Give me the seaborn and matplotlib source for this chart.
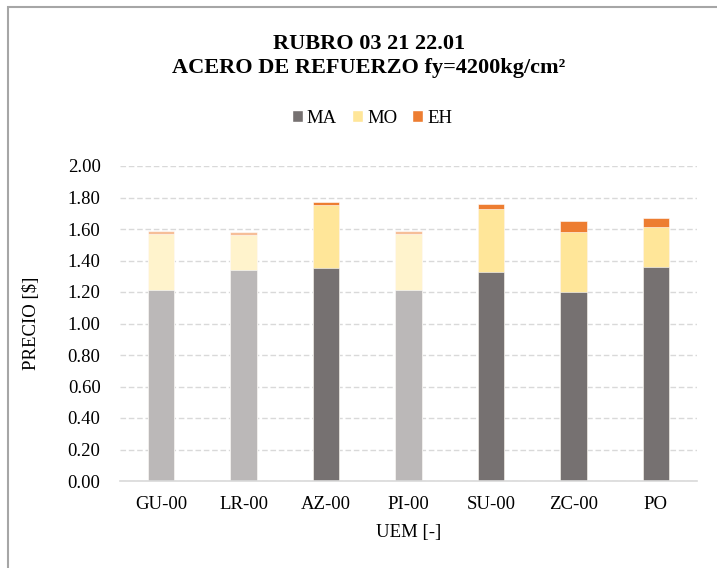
import matplotlib
matplotlib.use("Agg")
import matplotlib.pyplot as plt
from matplotlib.patches import Rectangle, Patch
from matplotlib.colors import to_rgb
import seaborn as sns
import pandas as pd
import numpy as np

# Unit price breakdown per UEM (materials, labour, equipment)
categories = ["GU-00", "LR-00", "AZ-00", "PI-00", "SU-00", "ZC-00", "PO"]
ma = [1.21, 1.34, 1.35, 1.21, 1.33, 1.20, 1.36]
mo = [0.36, 0.22, 0.40, 0.36, 0.40, 0.38, 0.25]
eh = [0.02, 0.02, 0.02, 0.02, 0.03, 0.07, 0.06]
faded = ["GU-00", "LR-00", "PI-00"]

C_MA = "#767171"
C_MO = "#FFE699"
C_EH = "#ED7D31"


def soften(c, a=0.5):
    r = np.array(to_rgb(c))
    return tuple(r * a + (1 - a))


def palette_for(base):
    return {c: (soften(base) if c in faded else base) for c in categories}


df = pd.DataFrame({"UEM": categories, "MA": ma, "MO": mo, "EH": eh})
df["top_mo"] = df["MA"] + df["MO"]
df["top_eh"] = df["top_mo"] + df["EH"]

sns.set_style("white")
plt.rcParams["font.family"] = ["Liberation Serif", "DejaVu Serif"]
plt.rcParams["text.color"] = "black"
plt.rcParams["axes.labelcolor"] = "black"

fig = plt.figure(figsize=(7.17, 5.68), dpi=100)
ax = fig.add_axes([120 / 717, 1 - 481 / 568, 577 / 717, 315 / 568])

ax.set_axisbelow(True)
ax.yaxis.grid(True, color="#D9D9D9", linestyle=(0, (4, 2)), linewidth=1)

bw = 0.32
for col, base in [("top_eh", C_EH), ("top_mo", C_MO), ("MA", C_MA)]:
    sns.barplot(data=df, x="UEM", y=col, hue="UEM", palette=palette_for(base),
                order=categories, hue_order=categories, width=bw, legend=False,
                saturation=1, edgecolor="white", linewidth=0.4, ax=ax, zorder=2)

ax.set_ylim(0, 2.0)
ax.set_xlim(-0.5, len(categories) - 0.5)
ax.set_yticks(np.arange(0, 2.01, 0.2))
ax.set_yticklabels([f"{v:.2f}" for v in np.arange(0, 2.01, 0.2)])
ax.tick_params(axis="both", length=0, labelsize=13.5, colors="black")
ax.tick_params(axis="y", pad=14)
ax.tick_params(axis="x", pad=11)

for s in ["top", "right", "left"]:
    ax.spines[s].set_visible(False)
ax.spines["bottom"].set_color("#D9D9D9")
ax.spines["bottom"].set_linewidth(1.2)

ax.set_xlabel("UEM [-]", fontsize=13.5, labelpad=8)
ax.set_ylabel("PRECIO [$]", fontsize=13.5, labelpad=20)

fig.text(369 / 717, 1 - 44 / 568, "RUBRO 03 21 22.01", ha="center", va="center",
         fontsize=16, fontweight="bold")
fig.text(369 / 717, 1 - 68 / 568, "ACERO DE REFUERZO fy=4200kg/cm²", ha="center",
         va="center", fontsize=16, fontweight="bold")

handles = [Patch(facecolor=C_MA, label="MA"), Patch(facecolor=C_MO, label="MO"),
           Patch(facecolor=C_EH, label="EH")]
fig.legend(handles=handles, loc="center", bbox_to_anchor=(372 / 717, 1 - 118 / 568),
           ncol=3, frameon=False, fontsize=13.5, handlelength=0.6, handleheight=0.6,
           handletextpad=0.2, columnspacing=0.8)

fig.patches.append(Rectangle((8 / 717, -0.1), 1.2, 1 - 7.5 / 568 + 0.1,
                             transform=fig.transFigure, fill=False,
                             edgecolor="#A6A6A6", linewidth=1.5))

fig.savefig("out.png", dpi=100, facecolor="white")
